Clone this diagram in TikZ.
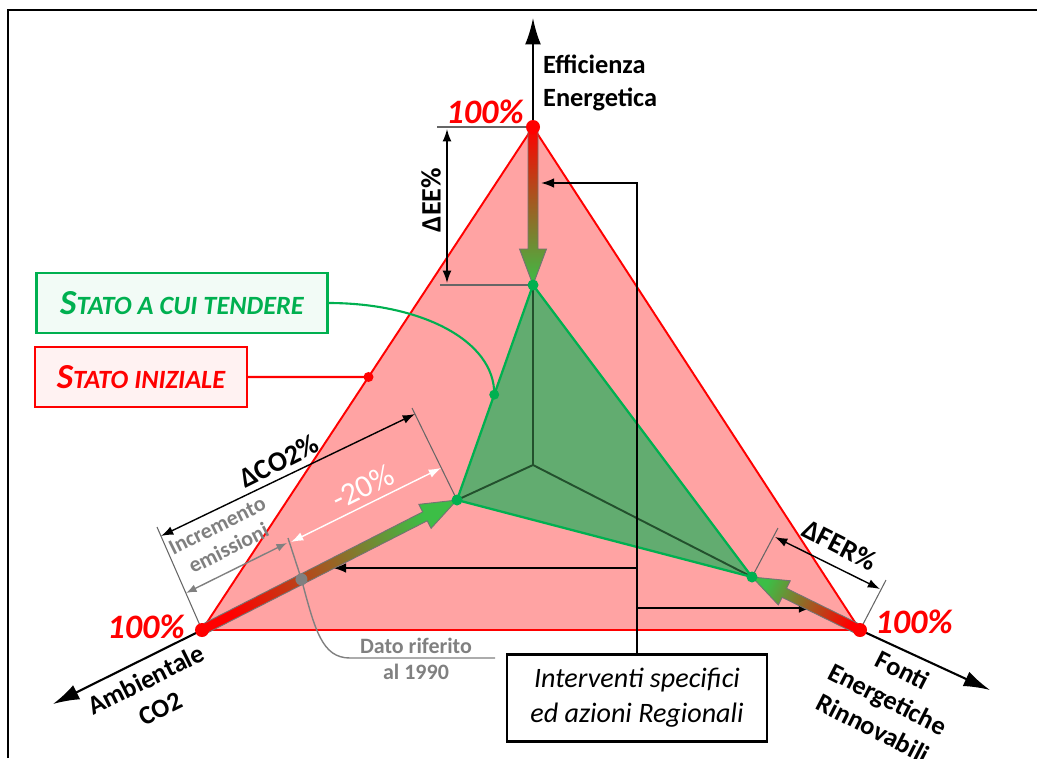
\documentclass[tikz,border=0pt]{standalone}
\usepackage{fontspec}
\setmainfont{Carlito}
\usetikzlibrary{arrows.meta,calc,positioning}
\definecolor{rosso}{RGB}{255,0,0}
\definecolor{rosa}{RGB}{255,163,163}
\definecolor{verde}{RGB}{0,176,80}
\definecolor{verdescuro}{RGB}{35,80,45}
\definecolor{verdepieno}{RGB}{98,172,112}
\definecolor{freccia}{RGB}{60,190,70}
\definecolor{bruno}{RGB}{200,105,45}
\definecolor{grigio}{RGB}{128,128,128}

% freccia con sfumatura: inizio, fine, angolo, colore in alto, colore in basso
\newcommand{\gradarrow}[5]{%
  \coordinate (gah) at ($(#2)!0.72cm!(#1)$);
  \shade[draw=black!55,line width=0.5pt,top color=#4,middle color=bruno,bottom color=#5,shading angle=#3]
    ($(#1)!0.1cm!90:(#2)$) -- ($(gah)!0.1cm!-90:(#1)$) -- ($(gah)!0.27cm!-90:(#1)$) -- (#2)
    -- ($(gah)!0.27cm!90:(#1)$) -- ($(gah)!0.1cm!90:(#1)$) -- ($(#1)!0.1cm!-90:(#2)$) -- cycle;
}

\begin{document}
\begin{tikzpicture}[x=0.02cm,y=-0.02cm,
  lab/.style={font=\fontsize{15}{18.5}\selectfont\bfseries},
  dlab/.style={font=\fontsize{16}{18}\selectfont\bfseries},
  perc/.style={text=rosso,font=\fontsize{19.5}{22}\selectfont\bfseries\itshape},
  quota/.style={black,line width=0.8pt,{Latex[length=7pt,width=5pt]}-{Latex[length=7pt,width=5pt]}},
  ext/.style={black!60,line width=0.6pt},
  conn/.style={black,line width=1pt,-{Latex[length=7.5pt,width=5.5pt]}},
  asse/.style={black,line width=1.2pt,-{Latex[length=15pt,width=9pt]}},
  statobox/.style={line width=1.2pt,minimum height=1.2cm,font=\fontsize{15}{18}\selectfont\bfseries\itshape}]

\useasboundingbox (0,0) rectangle (1037,758);
\draw[line width=1.1pt] (8,758) -- (8,10) -- (1037,10);

% vertici e punti obiettivo
\coordinate (EE) at (533,127);
\coordinate (CO) at (202,630);
\coordinate (FER) at (860,630);
\coordinate (C) at (533,465);
\coordinate (gEE) at (533,285);
\coordinate (gCO) at (457,500);
\coordinate (gFER) at (752,577);
\coordinate (aEE) at (533,18);
\coordinate (aCO) at (53,704);
\coordinate (aFER) at (990,690);

% assi
\draw[asse] (EE) -- (aEE);
\draw[asse] (CO) -- (aCO);
\draw[asse] (FER) -- (aFER);

% triangoli
\draw[rosso,fill=rosa,line width=1.1pt,line join=round] (EE) -- (CO) -- (FER) -- cycle;
\fill[verdepieno] (gEE) -- (gCO) -- (gFER) -- cycle;
\draw[verdescuro,line width=1.1pt] (gEE) -- (C) -- (gCO) (C) -- (gFER);
\draw[verde,line width=1.3pt,line join=round] (gEE) -- (gCO) -- (gFER) -- cycle;

% quote
\draw[ext] (437,127) -- (EE);
\draw[ext] (440,285) -- (gEE);
\draw[quota] (447,129) -- (447,283);
\node[dlab,rotate=90] (dEE) at (431,200) {ΔEE\%};

\draw[ext] (157,527) -- (CO);
\draw[ext] (412,408) -- (gCO);
\draw[quota] (161,536) -- (415,414);
\node[dlab,rotate=26.5] (dCO) at (279,461) {ΔCO2\%};

\draw[white,line width=0.8pt,{Latex[length=7pt,width=5pt]}-{Latex[length=7pt,width=5pt]}] (291,542) -- (441,468);
\node[text=white,font=\fontsize{18}{20}\selectfont,rotate=26.5] (d20) at (363,487) {-20\%};

\draw[grigio,line width=0.8pt,{Latex[length=6pt,width=4.5pt]}-{Latex[length=6pt,width=4.5pt]}] (186,593) -- (287,543);
\node[text=grigio,font=\fontsize{12.5}{14.5}\selectfont\bfseries,rotate=26.5,align=center] (incr) at (223,537) {Incremento\\emissioni};

\draw[ext] (gFER) -- (778,528);
\draw[ext] (FER) -- (886,580);
\draw[quota] (775,537) -- (880,589);
\node[dlab,rotate=-27] (dFER) at (840,545) {ΔFER\%};

% interventi
\node[draw,line width=1.2pt,fill=white,minimum width=5.2cm,minimum height=1.74cm,align=center,
  font=\fontsize{16}{20}\selectfont\itshape] (interv) at (637,698) {Interventi specifici\\ed azioni Regionali};
\coordinate (tEE) at (541,183);
\coordinate (tCO) at (333,568);
\coordinate (tFER) at (812,608);
\draw[conn] (interv.north) |- (tEE);
\draw[conn] (interv.north |- tCO) -- (tCO);
\draw[conn] (interv.north |- tFER) -- (tFER);

% frecce sfumate
\gradarrow{EE}{gEE}{0}{rosso}{freccia}
\gradarrow{CO}{gCO}{-63}{freccia}{rosso}
\gradarrow{FER}{gFER}{64}{freccia}{rosso}

% dato 1990
\coordinate (d1990) at ($(CO)!0.39!(gCO)$);
\draw[grigio,line width=0.8pt] (288,538) -- (d1990) .. controls (315,630) and (322,658) .. (350,658) -- (495,658);
\node[text=grigio,font=\fontsize{12.5}{15}\selectfont\bfseries,align=center] (rif) at (416,659) {Dato riferito\\al 1990};
\fill[grigio] (d1990) circle (6);

% punti
\foreach \p in {EE,CO,FER} \fill[rosso] (\p) circle (7);
\foreach \p in {gEE,gCO,gFER} \fill[verde] (\p) circle (5.5);

\node[perc] (pEE) at (485,112) {100\%};
\node[perc] (pCO) at (146,627) {100\%};
\node[perc] (pFER) at (914,622) {100\%};

\node[lab,anchor=west,align=left] (lEE) at (537,83) {Efficienza\\Energetica};
\node[lab,align=center,rotate=26.5] (lCO) at (153,694) {Ambientale\\CO2};
\node[lab,align=center,rotate=-27] (lFER) at (888,699) {Fonti\\Energetiche\\Rinnovabili};

% legenda
\node[statobox,draw=verde,fill=verde!5,text=verde,minimum width=5.82cm] (tend) at (182,303)
  {{\fontsize{20}{22}\selectfont S}TATO A CUI TENDERE};
\node[statobox,draw=rosso,fill=rosso!5,text=rosso,minimum width=4.24cm] (init) at (141,377)
  {{\fontsize{20}{22}\selectfont S}TATO INIZIALE};
\coordinate (gdot) at ($(gCO)!0.49!(gEE)$);
\coordinate (rdot) at ($(CO)!0.503!(EE)$);
\draw[verde,line width=1.2pt] (tend.east) .. controls (420,303) and (495,340) .. (gdot);
\draw[rosso,line width=1.2pt] (init.east) -- (rdot);
\fill[verde] (gdot) circle (5);
\fill[rosso] (rdot) circle (5);
\end{tikzpicture}
\end{document}
